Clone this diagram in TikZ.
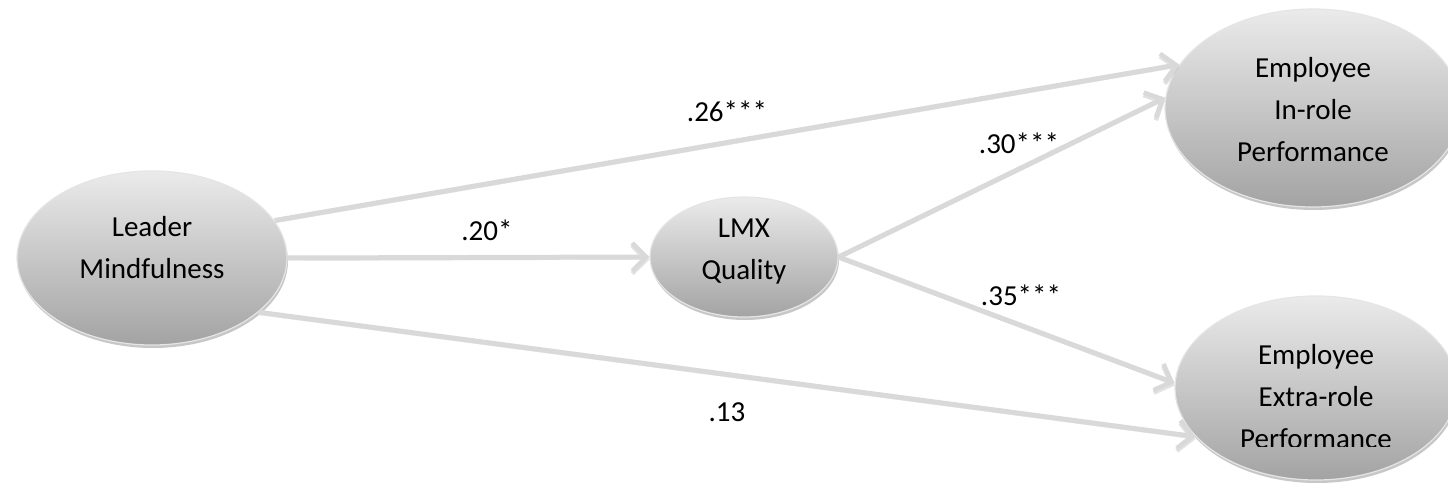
\documentclass[tikz,border=0pt]{standalone}
\usepackage{fontspec}
\setmainfont{Carlito}
\usetikzlibrary{shapes.geometric,arrows.meta,shadows}
\tikzset{
  var/.style={ellipse, inner sep=0pt, draw=black!10, line width=1.2pt,
    top color=black!8, bottom color=black!36,
    drop shadow={shadow xshift=1pt, shadow yshift=-3pt, opacity=0.22, fill=black}},
  vtxt/.style={align=center, inner sep=0pt, font=\fontsize{29}{42}\selectfont},
  link/.style={draw=black!15, line width=5pt,
    -{Straight Barb[length=14pt,width=28pt,line width=4.5pt]},
    preaction={draw=black!45, opacity=0.25, transform canvas={yshift=-2.5pt}}},
  lab/.style={font=\fontsize{29}{34}\selectfont, inner sep=0pt}
}
\begin{document}
\begin{tikzpicture}[x=1pt,y=-1pt]
\useasboundingbox (0,0) rectangle (1448,489);
\node[var, minimum width=270pt, minimum height=174pt] (lead) at (152,258) {};
\node[var, minimum width=188pt, minimum height=120pt] (lmx) at (744,257) {};
\node[var, minimum width=296pt, minimum height=198pt] (inr) at (1313,108) {};
\node[var, minimum width=282pt, minimum height=184pt] (exr) at (1316,388) {};

\node[vtxt] (leadt) at (152,248) {Leader\\Mindfulness};
\node[vtxt] (lmxt) at (744,252) {LMX\\Quality};
\node[vtxt] (inrt) at (1313,110) {Employee\\In-role\\Performance};
\begin{scope}
  \clip (1150,290) rectangle (1448,446);
  \node[vtxt] (exrt) at (1316,397) {Employee\\Extra-role\\Performance};
\end{scope}

\draw[link] (lead.17) -- (inr.162);
\draw[link] (lead.east) -- (lmx.west);
\draw[link] (lead.-27) -- (exr.202);
\draw[link] (lmx.east) -- (inr.176);
\draw[link] (lmx.east) -- (exr.178);

\node[lab] (l26) at (727,111) {.26***};
\node[lab] (l20) at (487,230) {.20*};
\node[lab] (l30) at (1019,143) {.30***};
\node[lab] (l35) at (1021,295) {.35***};
\node[lab] (l13) at (727,412) {.13};
\end{tikzpicture}
\end{document}
